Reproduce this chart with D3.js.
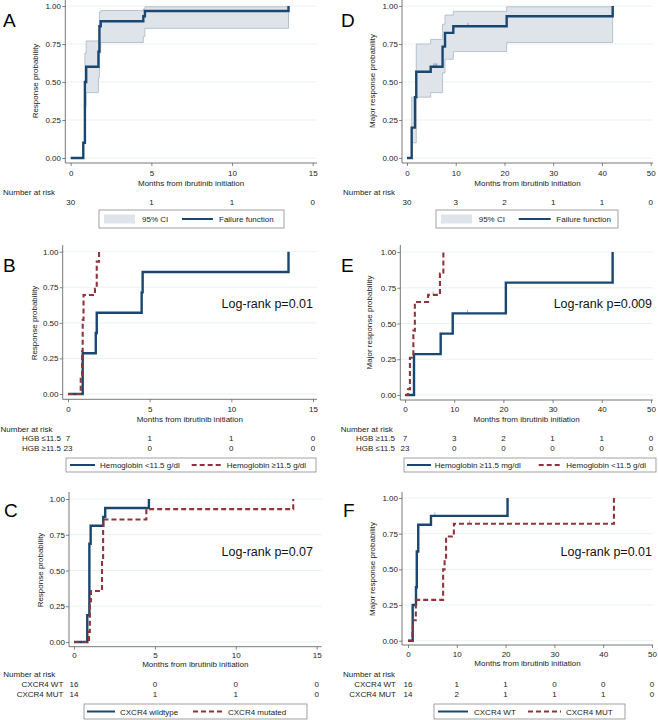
<!DOCTYPE html>
<html><head><meta charset="utf-8">
<script src="https://cdn.jsdelivr.net/npm/d3@7"></script>
<style>body{margin:0;background:#fff}</style>
</head><body><svg id="c" width="658" height="720"></svg>
<script>
// ---------- data ----------
const yTicks = [0, 0.25, 0.5, 0.75, 1];
const xTicks15 = [0, 5, 10, 15];
const xTicks50 = [0, 10, 20, 30, 40, 50];

// Panel A: overall response
const curveA = [[0,0],[0.78,0.1],[0.88,0.5],[0.96,0.6],[1.72,0.7],[1.78,0.867],[1.86,0.9],[4.5,0.933],[4.6,0.967],[13.5,1]];
const ciA = [[0.88,0.34,0.69],[0.96,0.43,0.77],[1.72,0.53,0.77],[1.78,0.69,0.96],[1.86,0.76,0.97],[4.5,0.80,0.98],[4.6,0.853,0.995],[13.5,0.853,0.995]];
const riskA = [30, 1, 1, 0];

// Panel D: major response
const curveD = [[0,0],[0.96,0.2],[1.64,0.4],[1.9,0.567],[4.86,0.6],[7.3,0.733],[7.8,0.823],[9.5,0.867],[20.45,0.933],[42.2,1]];
const ciD = [[0.96,0.1,0.40],[1.9,0.40,0.75],[4.86,0.43,0.78],[7.3,0.56,0.88],[7.8,0.65,0.94],[9.5,0.70,0.965],[20.45,0.76,0.995],[42.2,0.76,0.995]];
const censorD = [[5.5,0.6],[5.8,0.6],[6.1,0.6],[12.5,0.867]];
const riskD = [30, 3, 2, 1, 1, 0];

// Panel B: hemoglobin, response
const curveB_low = [[0,0],[0.9,0.286],[1.7,0.429],[1.76,0.571],[4.51,0.714],[4.57,0.857],[13.5,1]];
const curveB_high = [[0,0],[0.78,0.13],[0.86,0.3],[0.9,0.52],[0.95,0.696],[1.65,0.74],[1.76,0.93],[1.9,1]];
const riskB_low = [7, 1, 1, 0];
const riskB_high = [23, 0, 0, 0];

// Panel E: hemoglobin, major response
const curveE_high = [[0,0],[1.83,0.286],[7.25,0.429],[9.7,0.571],[20.5,0.786],[42.2,1]];
const censorE_high = [[12.7,0.571]];
const curveE_low = [[0,0],[0.6,0.04],[1.0,0.26],[1.7,0.45],[2.0,0.65],[4.7,0.7],[7.1,0.85],[7.8,1]];
const censorE_low = [[5.7,0.7]];
const riskE_high = [7, 3, 2, 1, 1, 0];
const riskE_low = [23, 0, 0, 0, 0, 0];

// Panel C: CXCR4, response
const curveC_wt = [[0,0],[0.82,0.1875],[0.95,0.6875],[1.03,0.8125],[1.81,0.875],[1.93,0.9375],[4.63,1]];
const curveC_mut = [[0,0],[0.93,0.071],[0.98,0.286],[1.05,0.357],[1.73,0.571],[1.8,0.857],[4.47,0.929],[13.55,1]];
const riskC_wt = [16, 0, 0, 0];
const riskC_mut = [14, 1, 1, 0];

// Panel F: CXCR4, major response
const curveF_wt = [[0,0],[0.96,0.25],[1.64,0.375],[1.8,0.625],[2.1,0.8125],[4.71,0.875],[20.4,1]];
const censorF_wt = [[5.5,0.875]];
const curveF_mut = [[0,0],[0.9,0.071],[1.0,0.143],[1.6,0.286],[7.2,0.5],[7.5,0.571],[7.8,0.73],[9.4,0.82],[42.2,1]];
const censorF_mut = [[12.6,0.82]];
const riskF_wt = [16, 1, 1, 0, 0, 0];
const riskF_mut = [14, 2, 1, 1, 1, 0];

// ---------- drawing ----------
const NAVY = "#1a476f", MAROON = "#90353b";
const FONT = "'Liberation Sans', Arial, Helvetica, sans-serif";
const svg = d3.select("#c").style("font-family", FONT);

function panel(c) {
  const g = svg.append("g");
  const x = d3.scaleLinear().domain([0, c.xMax]).range(c.xr);
  const y = d3.scaleLinear().domain([0, 1]).range(c.yr);

  // grid
  g.selectAll("line.grid").data(yTicks).join("line").attr("class","grid")
    .attr("x1", c.axX).attr("x2", c.axRight)
    .attr("y1", d => y(d)).attr("y2", d => y(d))
    .attr("stroke", "#e4edf0").attr("stroke-width", 0.8);

  // CI band
  if (c.ci) {
    const area = d3.area().curve(d3.curveStepAfter)
      .x(d => x(d[0])).y0(d => y(d[1])).y1(d => y(d[2]));
    g.append("path").datum(c.ci).attr("d", area)
      .attr("fill", "#dfe4eb").attr("stroke", "#aab6c4").attr("stroke-width", 0.8);
  }

  // curves
  const line = d3.line().curve(d3.curveStepAfter).x(d => x(d[0])).y(d => y(d[1]));
  c.curves.forEach(cv => {
    g.append("path").datum(cv.data).attr("d", line)
      .attr("fill", "none").attr("stroke", cv.color).attr("stroke-width", cv.dash ? 2.1 : 2.4)
      .attr("stroke-dasharray", cv.dash ? "5,3" : null);
    if (cv.censor) {
      g.selectAll(null).data(cv.censor).join("line")
        .attr("x1", d => x(d[0])).attr("x2", d => x(d[0]))
        .attr("y1", d => y(d[1])).attr("y2", d => y(d[1]) - 3.5)
        .attr("stroke", cv.color).attr("stroke-width", 0.6).attr("opacity", 0.7);
    }
  });

  // axes
  const ya = g.append("g").attr("transform", `translate(${c.axX},0)`)
    .call(d3.axisLeft(y).tickValues(yTicks).tickFormat(d3.format(".2f")).tickSize(3).tickPadding(c.axX - c.tickRight - 3));
  ya.select(".domain").remove();
  ya.selectAll("line").attr("stroke", "#555").attr("stroke-width", 0.7);
  ya.selectAll("text").attr("font-size", 8).attr("font-family", FONT).attr("fill", "#222");

  const xa = g.append("g").attr("transform", `translate(0,${c.axY})`)
    .call(d3.axisBottom(x).tickValues(c.xTicks).tickFormat(d3.format("d")).tickSize(3));
  xa.select(".domain").remove();
  xa.selectAll("line").attr("stroke", "#555").attr("stroke-width", 0.7);
  xa.selectAll("text").attr("font-size", 8).attr("font-family", FONT).attr("fill", "#222")
    .attr("dy", null).attr("y", c.xTickBase - c.axY);

  g.append("line").attr("x1", c.axX).attr("x2", c.axX).attr("y1", c.axTop).attr("y2", c.axY)
    .attr("stroke", "#555").attr("stroke-width", 0.8);
  g.append("line").attr("x1", c.axX).attr("x2", c.axRight).attr("y1", c.axY).attr("y2", c.axY)
    .attr("stroke", "#555").attr("stroke-width", 0.8);

  // titles
  g.append("text").attr("x", (c.axX + c.axRight) / 2).attr("y", c.xTitleBase)
    .attr("text-anchor", "middle").attr("font-size", 8).attr("fill", "#222")
    .text("Months from ibrutinib initiation");
  g.append("text").attr("transform", `translate(${c.yTitleX},${c.yTitleY}) rotate(-90)`)
    .attr("text-anchor", "middle").attr("font-size", 8).attr("fill", "#222")
    .text(c.yTitle);

  // letter
  g.append("text").attr("x", c.letter[1]).attr("y", c.letter[2])
    .attr("font-size", 19).attr("fill", "#000").text(c.letter[0]);

  // log-rank
  if (c.logrank) {
    g.append("text").attr("x", c.logrank[1]).attr("y", c.logrank[2]).attr("text-anchor", "end")
      .attr("font-size", 12.5).attr("fill", "#111").text(c.logrank[0]);
  }

  // number at risk
  g.append("text").attr("x", c.nrX).attr("y", c.nrBase).attr("font-size", 8).attr("fill", "#222")
    .text("Number at risk");
  c.rows.forEach(r => {
    if (r.label) g.append("text").attr("x", c.rowRight).attr("y", r.base).attr("text-anchor", "end")
      .attr("font-size", 8).attr("fill", "#222").text(r.label);
    g.selectAll(null).data(r.values).join("text")
      .attr("x", (d, i) => x(c.xTicks[i])).attr("y", r.base).attr("text-anchor", "middle")
      .attr("font-size", 8).attr("fill", "#222").text(d => d);
  });

  // legend
  const L = c.legend;
  g.append("rect").attr("x", L.x).attr("y", L.y).attr("width", L.w).attr("height", L.h)
    .attr("fill", "#fff").attr("stroke", "#8a8a8a").attr("stroke-width", 0.8);
  const my = L.y + L.h / 2;
  L.items.forEach(it => {
    if (it.type === "ci") {
      g.append("rect").attr("x", it.x1).attr("y", my - 4.5).attr("width", it.x2 - it.x1).attr("height", 9)
        .attr("fill", "#dfe4eb");
    } else {
      g.append("line").attr("x1", it.x1).attr("x2", it.x2).attr("y1", my).attr("y2", my)
        .attr("stroke", it.color).attr("stroke-width", 2).attr("stroke-dasharray", it.dash ? "5,3" : null);
    }
    g.append("text").attr("x", it.tx).attr("y", my + 3).attr("font-size", 8).attr("fill", "#222").text(it.text);
  });
}

panel({
  xMax: 15, xr: [70.7, 312.7], yr: [158, 6], xTicks: xTicks15,
  axX: 65.3, axY: 163, axTop: 0, axRight: 317, tickRight: 61, xTickBase: 175.5, xTitleBase: 186,
  yTitle: "Response probability", yTitleX: 38, yTitleY: 81,
  letter: ["A", 3, 27], nrX: 3, nrBase: 195, rowRight: 61,
  rows: [{ label: "", values: riskA, base: 204.5 }],
  ci: ciA,
  curves: [{ data: curveA, color: NAVY }],
  legend: { x: 99, y: 210, w: 185, h: 18, items: [
    { type: "ci", x1: 104, x2: 135, tx: 142, text: "95% CI" },
    { type: "line", x1: 182, x2: 213, color: NAVY, tx: 219, text: "Failure function" }] }
});

panel({
  xMax: 50, xr: [407, 650.7], yr: [158, 6], xTicks: xTicks50,
  axX: 402, axY: 163, axTop: 0, axRight: 653, tickRight: 398, xTickBase: 175.5, xTitleBase: 186,
  yTitle: "Major response probability", yTitleX: 375, yTitleY: 81,
  letter: ["D", 341, 27], nrX: 343, nrBase: 195, rowRight: 398,
  rows: [{ label: "", values: riskD, base: 204.5 }],
  ci: ciD,
  curves: [{ data: curveD, color: NAVY, censor: censorD }],
  legend: { x: 436, y: 210, w: 182, h: 18, items: [
    { type: "ci", x1: 441, x2: 472, tx: 478.7, text: "95% CI" },
    { type: "line", x1: 518.7, x2: 550.7, color: NAVY, tx: 556.3, text: "Failure function" }] }
});

panel({
  xMax: 15, xr: [68, 313], yr: [394, 251.7], xTicks: xTicks15,
  axX: 62.7, axY: 399.3, axTop: 245, axRight: 317, tickRight: 58.5, xTickBase: 411.7, xTitleBase: 421.7,
  yTitle: "Response probability", yTitleX: 37, yTitleY: 323,
  letter: ["B", 3, 272], nrX: 0.5, nrBase: 431.7, rowRight: 61,
  rows: [{ label: "HGB \u226411.5", values: riskB_low, base: 441.3 },
         { label: "HGB \u226511.5", values: riskB_high, base: 451.3 }],
  logrank: ["Log-rank p=0.01", 313, 308],
  curves: [{ data: curveB_low, color: NAVY }, { data: curveB_high, color: MAROON, dash: true }],
  legend: { x: 66, y: 458, w: 250, h: 14, items: [
    { type: "line", x1: 70, x2: 95, color: NAVY, tx: 100, text: "Hemoglobin <11.5 g/dl" },
    { type: "line", x1: 191.7, x2: 221.7, color: MAROON, dash: true, tx: 226.7, text: "Hemoglobin \u226511.5 g/dl" }] }
});

panel({
  xMax: 50, xr: [405, 651], yr: [395, 252], xTicks: xTicks50,
  axX: 400.3, axY: 400, axTop: 245, axRight: 653, tickRight: 396.3, xTickBase: 411.7, xTitleBase: 421.7,
  yTitle: "Major response probability", yTitleX: 371.5, yTitleY: 322.5,
  letter: ["E", 341, 272], nrX: 340.7, nrBase: 431.7, rowRight: 395,
  rows: [{ label: "HGB \u226511.5", values: riskE_high, base: 441.3 },
         { label: "HGB \u226411.5", values: riskE_low, base: 451.3 }],
  logrank: ["Log-rank p=0.009", 652, 308],
  curves: [{ data: curveE_high, color: NAVY, censor: censorE_high }, { data: curveE_low, color: MAROON, dash: true, censor: censorE_low }],
  legend: { x: 404, y: 458, w: 252, h: 14, items: [
    { type: "line", x1: 407, x2: 431, color: NAVY, tx: 434.7, text: "Hemoglobin \u226511.5 mg/dl" },
    { type: "line", x1: 538.7, x2: 561.3, color: MAROON, dash: true, tx: 566.3, text: "Hemoglobin <11.5 g/dl" }] }
});

panel({
  xMax: 15, xr: [74, 316.7], yr: [642, 499], xTicks: xTicks15,
  axX: 69, axY: 646.7, axTop: 492, axRight: 321.7, tickRight: 65, xTickBase: 658.3, xTitleBase: 667.3,
  yTitle: "Response probability", yTitleX: 43, yTitleY: 570,
  letter: ["C", 4, 517], nrX: 3.3, nrBase: 677.3, rowRight: 63.3,
  rows: [{ label: "CXCR4 WT", values: riskC_wt, base: 686.7 },
         { label: "CXCR4 MUT", values: riskC_mut, base: 696.7 }],
  logrank: ["Log-rank p=0.07", 313, 556],
  curves: [{ data: curveC_wt, color: NAVY }, { data: curveC_mut, color: MAROON, dash: true }],
  legend: { x: 84, y: 704, w: 223, h: 15, items: [
    { type: "line", x1: 87, x2: 115, color: NAVY, tx: 120, text: "CXCR4 wildtype" },
    { type: "line", x1: 193, x2: 222, color: MAROON, dash: true, tx: 228, text: "CXCR4 mutated" }] }
});

panel({
  xMax: 50, xr: [408, 652], yr: [640.7, 498], xTicks: xTicks50,
  axX: 402, axY: 645, axTop: 492, axRight: 653, tickRight: 398, xTickBase: 657.3, xTitleBase: 665.7,
  yTitle: "Major response probability", yTitleX: 375, yTitleY: 569,
  letter: ["F", 343, 517], nrX: 343, nrBase: 677.3, rowRight: 396,
  rows: [{ label: "CXCR4 WT", values: riskF_wt, base: 686.7 },
         { label: "CXCR4 MUT", values: riskF_mut, base: 696.7 }],
  logrank: ["Log-rank p=0.01", 652, 556],
  curves: [{ data: curveF_wt, color: NAVY, censor: censorF_wt }, { data: curveF_mut, color: MAROON, dash: true, censor: censorF_mut }],
  legend: { x: 434, y: 704, w: 191, h: 15, items: [
    { type: "line", x1: 438, x2: 468, color: NAVY, tx: 474, text: "CXCR4 WT" },
    { type: "line", x1: 528, x2: 561, color: MAROON, dash: true, tx: 566, text: "CXCR4 MUT" }] }
});
</script>
</body></html>
